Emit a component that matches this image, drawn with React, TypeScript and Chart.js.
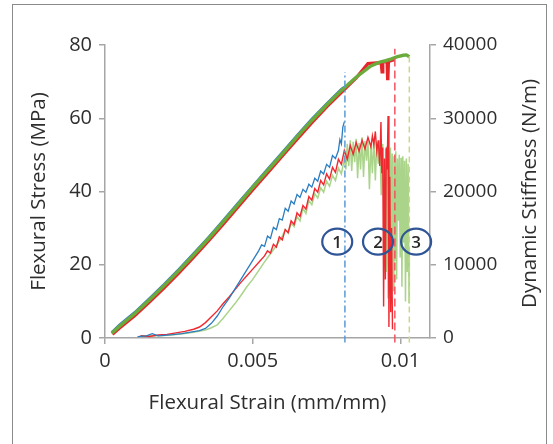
import React, { useEffect, useRef } from 'react';
import { Chart, registerables } from 'chart.js';

Chart.register(...registerables);

// ---------- data ----------
const xTickValues = [0, 0.005, 0.01];

const greenStressX = [0.00023, 0.0005, 0.001, 0.0015, 0.002, 0.0025, 0.003, 0.0035, 0.004, 0.0045, 0.005, 0.0055, 0.006, 0.0065, 0.007, 0.0075, 0.008, 0.0085, 0.009, 0.0093, 0.0095, 0.0097, 0.0099, 0.0101, 0.0102, 0.0103];
const greenStressY = [1.3, 3.3, 6.6, 10.4, 14.3, 18.4, 22.7, 27.1, 31.7, 36.4, 41.1, 45.7, 50.3, 54.9, 59.4, 63.6, 67.6, 71.2, 74.3, 75.3, 75.7, 76.2, 76.8, 77.2, 77.3, 76.8];

const redStressX = [0.00025, 0.0005, 0.001, 0.0015, 0.002, 0.0025, 0.003, 0.0035, 0.004, 0.0045, 0.005, 0.0055, 0.006, 0.0065, 0.007, 0.0075, 0.008, 0.0085, 0.0089, 0.0092, 0.00935, 0.00938, 0.0094, 0.00945, 0.0095, 0.00955, 0.00957, 0.00959, 0.00962, 0.0097, 0.0098];
const redStressY = [1.0, 2.8, 6.1, 9.8, 13.7, 17.8, 22.1, 26.5, 31.1, 35.8, 40.5, 45.1, 49.7, 54.3, 58.8, 63.1, 67.1, 71.0, 74.9, 75.1, 75.2, 72.7, 75.3, 75.4, 75.5, 75.4, 70.4, 75.3, 75.6, 75.8, 76.0];

const blueStressX = [0.00023, 0.0005, 0.001, 0.0015, 0.002, 0.0025, 0.003, 0.0035, 0.004, 0.0045, 0.005, 0.0055, 0.006, 0.0065, 0.007, 0.0075, 0.008, 0.0081];
const blueStressY = [1.5, 3.6, 6.9, 10.7, 14.6, 18.7, 23.0, 27.4, 32.0, 36.7, 41.4, 46.0, 50.6, 55.2, 59.7, 63.9, 67.9, 68.5];

const blueStiffX = [0.0011, 0.0014, 0.0016, 0.0018, 0.002, 0.0023, 0.0026, 0.0029, 0.0032, 0.0034, 0.0036, 0.0038, 0.004, 0.0042, 0.0044, 0.0046, 0.0048, 0.005, 0.0052, 0.0053,
  0.0054, 0.0055, 0.0056, 0.0057, 0.0058, 0.0059, 0.006, 0.0061, 0.0062, 0.0063, 0.0064, 0.0065, 0.0066, 0.0067, 0.0068, 0.0069, 0.007, 0.0071, 0.0072, 0.0073, 0.0074, 0.0075, 0.0076, 0.0077, 0.0078, 0.0079,
  0.00795, 0.008, 0.00805, 0.0081];
const blueStiffY = [200, 300, 600, 300, 350, 450, 600, 800, 1000, 1300, 2000, 3000, 4300, 5400, 6700, 8000, 9300, 10600, 11900, 12700,
  12500, 13900, 13600, 15100, 14800, 16300, 16100, 17700, 17300, 18700, 18300, 19600, 19200, 20300, 19900, 21000, 20600, 21800, 21400, 22800, 22400, 23700, 23300, 24900, 24500, 25600,
  27100, 26500, 28800, 29500];

const redStiffX = [0.0012, 0.0015, 0.0018, 0.0021, 0.0024, 0.0027, 0.003, 0.0032, 0.0034, 0.0036, 0.0038, 0.004, 0.0042, 0.0044, 0.0046, 0.0048, 0.005, 0.0052,
  0.0054, 0.0055, 0.0056, 0.0057, 0.0058, 0.0059, 0.006, 0.0061, 0.0062, 0.0063, 0.0064, 0.0065, 0.0066, 0.0067, 0.0068, 0.0069, 0.007, 0.0071, 0.0072, 0.0073, 0.0074, 0.0075, 0.0076, 0.0077, 0.0078, 0.0079, 0.008, 0.0081, 0.0082, 0.0083, 0.0084, 0.0085, 0.0086, 0.0087, 0.0088, 0.0089, 0.009,
  0.00905, 0.0091, 0.00915, 0.0092, 0.00925, 0.0093, 0.00934, 0.00937, 0.0094, 0.00943, 0.00946, 0.00949, 0.00952, 0.00955, 0.00958, 0.00961, 0.00964, 0.00967, 0.0097, 0.00973];
const redStiffY = [300, 200, 400, 500, 700, 900, 1200, 1500, 2100, 2900, 3700, 4700, 5600, 6600, 7600, 8500, 9400, 10300,
  11200, 11900, 11600, 12800, 12400, 13800, 13400, 14800, 14400, 16000, 15500, 17100, 16600, 18100, 17600, 19300, 18800, 20400, 19900, 21500, 20900, 22400, 21700, 23300, 22600, 24400, 23700, 25600, 24400, 26300, 25100, 26700, 25500, 27000, 25800, 27400, 26100,
  27600, 26400, 28200, 25500, 27000, 23500, 29500, 22500, 26000, 4300, 24500, 8000, 26000, 23000, 30300, 1500, 22000, 3500, 15000, 1200];

const greenStiffX = [0.0012, 0.0016, 0.002, 0.0025, 0.003, 0.0034, 0.0036, 0.0038, 0.004, 0.0042, 0.0044, 0.0046, 0.0048, 0.005, 0.0052, 0.0054, 0.0056, 0.0058,
  0.006, 0.0061, 0.0062, 0.0063, 0.0064, 0.0065, 0.0066, 0.0067, 0.0068, 0.0069, 0.007, 0.0071, 0.0072, 0.0073, 0.0074, 0.0075, 0.0076, 0.0077, 0.0078, 0.0079, 0.008, 0.0081,
  0.00815, 0.0082, 0.00825, 0.0083, 0.00835, 0.0084, 0.00845, 0.0085, 0.00855, 0.0086, 0.00865, 0.0087, 0.00875, 0.0088, 0.00885, 0.0089, 0.00895, 0.009, 0.00905, 0.0091, 0.00915, 0.0092, 0.00925, 0.0093, 0.00935, 0.0094, 0.00945,
  0.0095, 0.00952, 0.00955, 0.00958, 0.0096, 0.00963, 0.00966, 0.00969, 0.00972, 0.00975, 0.00978, 0.00981, 0.00984, 0.00987, 0.0099, 0.00993, 0.00996, 0.00999, 0.01002, 0.01005, 0.01008, 0.01011, 0.01014, 0.01017, 0.0102, 0.01023, 0.01026, 0.01029, 0.0103];
const greenStiffY = [250, 300, 350, 500, 800, 1100, 1400, 1800, 2700, 3700, 4700, 5800, 7000, 8000, 9200, 10400, 11500, 12600,
  13900, 14800, 14300, 15700, 15200, 16600, 16000, 17700, 17000, 18800, 18200, 19700, 19100, 20500, 19900, 21400, 20700, 22200, 21500, 23200, 22400, 24500,
  23000, 26500, 23500, 27000, 22800, 26800, 24000, 27200, 21800, 26600, 23000, 27400, 22000, 26900, 24200, 27000, 20300, 26500, 22500, 27300, 21500, 26800, 23800, 27000, 19500, 26500, 14000,
  25800, 9000, 26200, 5500, 25500, 7500, 26000, 12000, 25200, 6500, 24800, 10500, 25500, 8000, 24500, 16000, 25000, 11000, 24600, 7000, 24800, 13000, 24200, 5000, 24500, 9000, 23800, 4800, 12000];

const failStrain = [0.00812, 0.00981, 0.0103];
const failTop = [72.6, 79, 77];
const markerStrain = [0.00786, 0.00924, 0.01053];
const markerStress = [26.3, 26.3, 26.3];
const markerLabels = ['1', '2', '3'];

// ---------- style ----------
const FONT = '"Open Sans", "DejaVu Sans", sans-serif';
const TEXT = '#2e2e2e';
const AXIS = '#a6a6a6';

const pts = (xs: number[], ys: number[]) => xs.map((x, i) => ({ x, y: ys[i] }));

const markerPlugin = {
  id: 'markers',
  afterDatasetsDraw(chart: any) {
    const { ctx, scales } = chart;
    ctx.save();
    markerStrain.forEach((s, i) => {
      const px = scales.x.getPixelForValue(s);
      const py = scales.y.getPixelForValue(markerStress[i]);
      ctx.beginPath();
      ctx.ellipse(px, py, 15, 13, 0, 0, Math.PI * 2);
      ctx.lineWidth = 2.2;
      ctx.strokeStyle = '#2f5597';
      ctx.stroke();
      ctx.fillStyle = '#2a2a2a';
      ctx.font = `600 17px ${FONT}`;
      ctx.textAlign = 'center';
      ctx.textBaseline = 'middle';
      ctx.fillText(markerLabels[i], px, py + 1);
    });
    ctx.restore();
  },
};

const rightTitlePlugin = {
  id: 'rightTitle',
  afterDraw(chart: any) {
    const { ctx, chartArea } = chart;
    ctx.save();
    ctx.translate(530, (chartArea.top + chartArea.bottom) / 2 + 2);
    ctx.rotate(-Math.PI / 2);
    ctx.fillStyle = TEXT;
    ctx.font = `20.5px ${FONT}`;
    ctx.textAlign = 'center';
    ctx.textBaseline = 'middle';
    ctx.fillText('Dynamic Stiffness (N/m)', 0, 0);
    ctx.restore();
  },
};

export default function App() {
  const ref = useRef<HTMLCanvasElement | null>(null);

  useEffect(() => {
    if (!ref.current) return;
    const failColors = ['#5b9bd5', '#f2545f', '#c9d68c'];
    const failDash = [[7, 3, 2, 3], [8, 4], [6, 4]];
    const failSets = failStrain.map((s, i) => ({
      data: [{ x: s, y: -1.2 }, { x: s, y: failTop[i] }],
      borderColor: failColors[i],
      borderWidth: 1.5,
      borderDash: failDash[i],
      yAxisID: 'y',
      clip: false as any,
    }));

    const chart = new Chart(ref.current, {
      type: 'line',
      data: {
        datasets: [
          ...failSets,
          { data: pts(greenStressX, greenStressY), borderColor: '#6aab3c', borderWidth: 3.4, yAxisID: 'y' },
          { data: pts(redStressX, redStressY), borderColor: '#e6252b', borderWidth: 3.4, yAxisID: 'y' },
          { data: pts(blueStressX, blueStressY), borderColor: '#3b7fbf', borderWidth: 3, yAxisID: 'y' },
          { data: pts(blueStiffX, blueStiffY), borderColor: '#2c7dc0', borderWidth: 1.3, yAxisID: 'y2' },
          { data: pts(redStiffX, redStiffY), borderColor: '#ee2a30', borderWidth: 1.4, yAxisID: 'y2' },
          { data: pts(greenStiffX, greenStiffY), borderColor: '#a9d48a', borderWidth: 1.5, yAxisID: 'y2' },
        ] as any,
      },
      options: {
        animation: false,
        responsive: false,
        events: [],
        elements: { point: { radius: 0 }, line: { tension: 0 } },
        layout: { padding: { top: 45, left: 0, right: 0, bottom: 0 } },
        plugins: { legend: { display: false }, tooltip: { enabled: false } },
        scales: {
          x: {
            type: 'linear',
            min: 0,
            max: 0.011,
            afterBuildTicks: (axis: any) => {
              axis.ticks = xTickValues.map((v) => ({ value: v }));
            },
            afterFit: (s: any) => { s.height = 106; },
            ticks: {
              color: TEXT,
              font: { family: FONT, size: 20 },
              padding: 5,
              maxRotation: 0,
              callback: (v: any) => String(v),
            },
            grid: { drawOnChartArea: false, drawTicks: true, tickLength: 6, color: AXIS, lineWidth: 1.5 },
            border: { color: AXIS, width: 1.5 },
            title: {
              display: true,
              text: 'Flexural Strain (mm/mm)',
              color: TEXT,
              font: { family: FONT, size: 20.5 },
              padding: { top: 0, bottom: 29 },
            },
          },
          y: {
            position: 'left',
            min: 0,
            max: 80,
            afterFit: (s: any) => { s.width = 105; },
            ticks: { stepSize: 20, color: TEXT, font: { family: FONT, size: 20 }, padding: 7 },
            grid: { drawOnChartArea: false, drawTicks: true, tickLength: 6, color: AXIS, lineWidth: 1.5 },
            border: { color: AXIS, width: 1.5 },
            title: {
              display: true,
              text: 'Flexural Stress (MPa)',
              color: TEXT,
              font: { family: FONT, size: 20.5 },
              padding: { top: 27, bottom: 0 },
            },
          },
          y2: {
            position: 'right',
            min: 0,
            max: 40000,
            afterFit: (s: any) => { s.width = 123; },
            ticks: {
              stepSize: 10000,
              color: TEXT,
              font: { family: FONT, size: 19 },
              padding: 7,
              callback: (v: any) => String(v),
            },
            grid: { drawOnChartArea: false, drawTicks: true, tickLength: 6, color: AXIS, lineWidth: 1.5 },
            border: { color: AXIS, width: 1.5 },
            title: { display: false },
          },
        },
      } as any,
      plugins: [markerPlugin, rightTitlePlugin],
    });
    return () => chart.destroy();
  }, []);

  return (
    <div style={{ position: 'fixed', left: 0, top: 0, width: 553, height: 444, overflow: 'hidden', background: '#ffffff' }}>
      <div
        style={{
          position: 'absolute',
          left: 12,
          top: 4,
          width: 535,
          height: 470,
          border: '1.5px solid #8a8a8a',
          boxSizing: 'border-box',
        }}
      />
      <canvas ref={ref} width={553} height={444} style={{ position: 'absolute', left: 0, top: 0, display: 'block' }} />
    </div>
  );
}
